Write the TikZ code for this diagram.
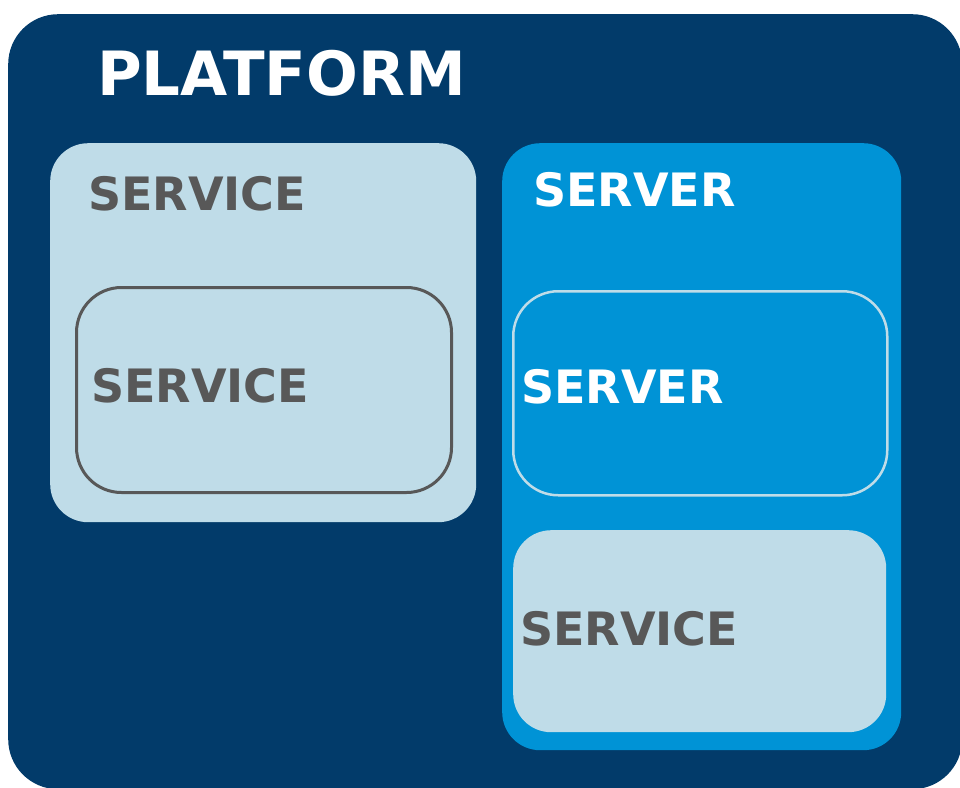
\documentclass[tikz,border=0pt]{standalone}
\usepackage{fontspec}
\setmainfont{DejaVu Sans}
\usetikzlibrary{positioning}
\definecolor{navy}{HTML}{023B6A}
\definecolor{midblue}{HTML}{0093D6}
\definecolor{paleblue}{HTML}{BFDCE8}
\definecolor{textgray}{HTML}{585858}
\tikzset{
    box/.style = {rectangle, anchor=north west, inner sep=0pt, rounded corners=#1},
    platformbox/.style = {box=50pt, fill=navy},
    servicebox/.style = {box=38pt, fill=paleblue},
    serverbox/.style = {box=38pt, fill=midblue},
    innerservice/.style = {box=45pt, draw=textgray, line width=3pt},
    innerserver/.style = {box=45pt, draw=paleblue, line width=2.5pt},
    title/.style = {anchor=base west, inner sep=0pt, text=white, font=\bfseries\fontsize{61}{70}\selectfont},
    darklabel/.style = {anchor=base west, inner sep=0pt, text=textgray, font=\bfseries\fontsize{46}{56}\selectfont},
    lightlabel/.style = {anchor=base west, inner sep=0pt, text=white, font=\bfseries\fontsize{46}{56}\selectfont}
}

\begin{document}
\begin{tikzpicture}[x=1pt, y=-1pt]
  \clip (0,0) rectangle (960,787);
  \fill[white] (0,0) rectangle (960,787);

  % outer platform
  \node[platformbox, minimum width=954pt, minimum height=775pt] (platform) at (8,14) {};
  \node[title] (platformlabel) at (97,95) {PLATFORM};

  % left service
  \node[servicebox, minimum width=426pt, minimum height=379pt] (service) at (50,143) {};
  \node[darklabel] (servicelabel) at (88,210) {SERVICE};
  \node[innerservice, minimum width=375pt, minimum height=205pt] (subservice) at (75,286) {};
  \node[darklabel] (subservicelabel) at (91,402) {SERVICE};

  % right server
  \node[serverbox, minimum width=399pt, minimum height=607pt] (server) at (502,143) {};
  \node[lightlabel] (serverlabel) at (533,206) {SERVER};
  \node[innerserver, minimum width=374pt, minimum height=204pt] (subserver) at (512,290) {};
  \node[lightlabel] (subserverlabel) at (521,403) {SERVER};
  \node[servicebox, minimum width=373pt, minimum height=202pt] (lowservice) at (513,530) {};
  \node[darklabel] (lowservicelabel) at (520,645) {SERVICE};
\end{tikzpicture}
\end{document}
